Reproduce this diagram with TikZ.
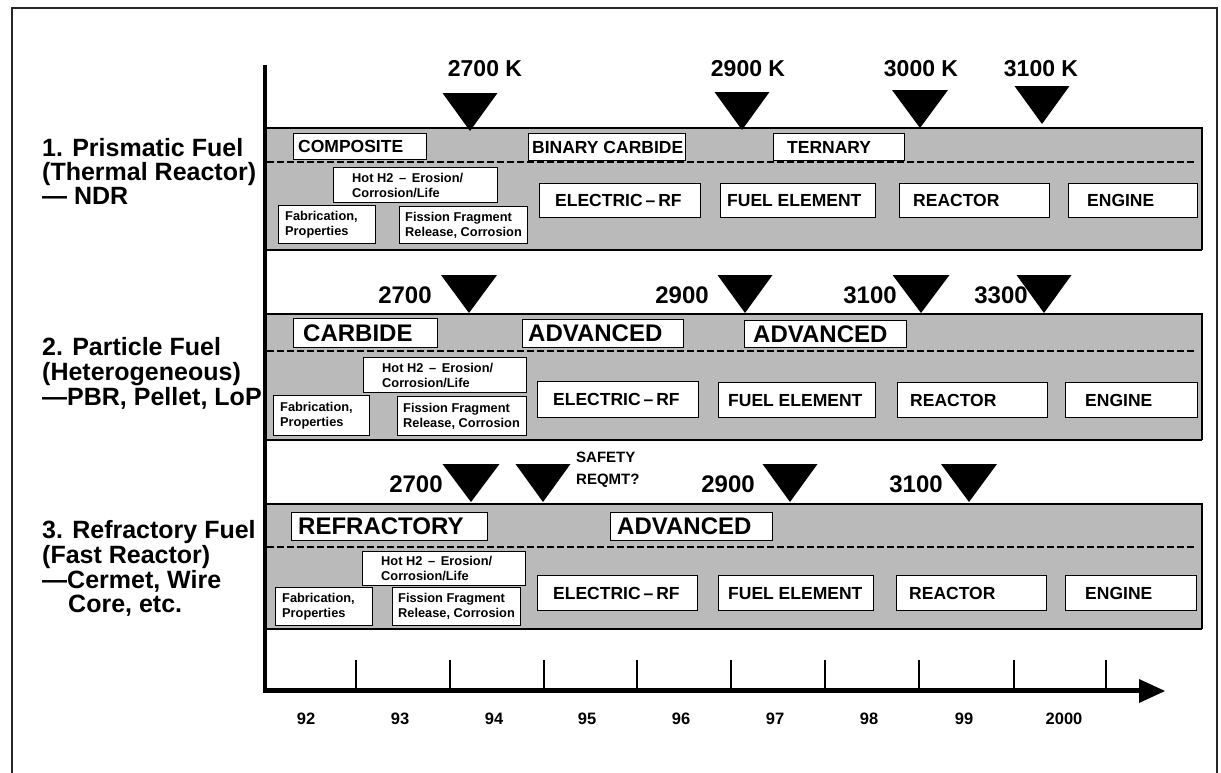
\documentclass[tikz,border=0pt]{standalone}
\usepackage{fontspec}
\setmainfont{Liberation Sans}
\newcommand\tbox[8]{%
  \node[boxshape, minimum width={(#4-#2)*1pt}, minimum height={(#5-#3)*1pt}] (#1) at (#2,#3) {};
  \node[#7, anchor=west] (#1t) at ([xshift=#6pt]#1.west) {#8};}
\newcommand\tri[5]{%
  \fill (#2-#5,#3) -- (#2+#5,#3) -- (#2,#4) -- cycle; \coordinate (#1) at (#2,#4);}
\begin{document}
\begin{tikzpicture}[x=1pt,y=-1pt,
  lab/.style={anchor=base west, inner sep=0pt, font=\fontsize{25}{25}\selectfont\bfseries},
  temp/.style={anchor=base, inner sep=0pt, font=\fontsize{23}{23}\selectfont\bfseries},
  tempb/.style={anchor=base, inner sep=0pt, font=\fontsize{24}{24}\selectfont\bfseries},
  year/.style={anchor=base, inner sep=0pt, font=\fontsize{16.5}{16.5}\selectfont\bfseries},
  safe/.style={anchor=base west, inner sep=0pt, font=\fontsize{15}{15}\selectfont\bfseries},
  boxshape/.style={draw, fill=white, line width=1.3pt, anchor=north west, inner sep=0pt},
  mid/.style={inner sep=0pt, font=\fontsize{17.5}{17.5}\selectfont\bfseries},
  big/.style={inner sep=0pt, font=\fontsize{24}{24}\selectfont\bfseries},
  small/.style={inner sep=0pt, align=left, font=\fontsize{12.8}{15}\selectfont\bfseries},
  bandfill/.style={fill=black!27},
  divider/.style={line width=1.3pt, dash pattern=on 7pt off 3pt},
  tick/.style={line width=1.5pt}]
\useasboundingbox (0,0) rectangle (1221,772);
\fill[white] (0,0) rectangle (1221,772);
\draw[line width=2pt, black!85] (12,790) -- (12,8) -- (1217,8) -- (1217,790);

% row labels
\node[lab] (l1a) at (42,156) {1. Prismatic Fuel};
\node[lab] (l1b) at (42,180) {(Thermal Reactor)};
\node[lab] (l1c) at (42,204) {— NDR};
\node[lab] (l2a) at (42,355) {2. Particle Fuel};
\node[lab] (l2b) at (42,380) {(Heterogeneous)};
\node[lab] (l2c) at (42,405) {—PBR, Pellet, LoP};
\node[lab] (l3a) at (42,538) {3. Refractory Fuel};
\node[lab] (l3b) at (42,563) {(Fast Reactor)};
\node[lab] (l3c) at (42,588) {—Cermet, Wire};
\node[lab] (l3d) at (68,612) {Core, etc.};

% bands
\foreach \t/\d/\b in {128/162/250, 314/351/440, 504/547/629}{
  \fill[bandfill] (265,\t) rectangle (1202,\b);
  \draw[line width=1.3pt] (265,\t) -- (1202,\t) -- (1202,\b);
  \draw[line width=2pt] (265,\b) -- (1202,\b);
  \draw[divider] (267,\d) -- (1196,\d);
}

% row 1 boxes
\tbox{a1}{293}{133}{426}{159}{5}{mid}{COMPOSITE}
\tbox{b1}{528}{133}{685}{160}{4}{mid}{BINARY CARBIDE}
\tbox{c1}{773}{133}{904}{160}{14}{mid}{TERNARY}
\tbox{h1}{333}{167}{497}{202}{19}{small}{Hot H2 \,–\, Erosion/\\Corrosion/Life}
\tbox{f1}{278}{205}{375}{243}{7}{small}{Fabrication,\\Properties}
\tbox{g1}{399}{206}{527}{243}{6}{small}{Fission Fragment\\Release, Corrosion}
\tbox{e1}{539}{183}{700}{217}{16}{mid}{ELECTRIC\,–\,RF}
\tbox{u1}{720}{183}{875}{217}{7}{mid}{FUEL ELEMENT}
\tbox{r1}{899}{183}{1049}{217}{14}{mid}{REACTOR}
\tbox{n1}{1068}{183}{1197}{217}{19}{mid}{ENGINE}

% row 2 boxes
\tbox{a2}{293}{318}{437}{347}{10}{big}{CARBIDE}
\tbox{b2}{522}{319}{683}{347}{6}{big}{ADVANCED}
\tbox{c2}{744}{320}{906}{347}{9}{big}{ADVANCED}
\tbox{h2}{363}{357}{526}{392}{19}{small}{Hot H2 \,–\, Erosion/\\Corrosion/Life}
\tbox{f2}{273}{395}{369}{435}{7}{small}{Fabrication,\\Properties}
\tbox{g2}{397}{396}{526}{435}{6}{small}{Fission Fragment\\Release, Corrosion}
\tbox{e2}{537}{381}{698}{417}{16}{mid}{ELECTRIC\,–\,RF}
\tbox{u2}{718}{382}{875}{417}{10}{mid}{FUEL ELEMENT}
\tbox{r2}{897}{382}{1047}{417}{13}{mid}{REACTOR}
\tbox{n2}{1065}{382}{1197}{417}{20}{mid}{ENGINE}

% row 3 boxes
\tbox{a3}{291}{512}{487}{540}{7}{big}{REFRACTORY}
\tbox{b3}{610}{512}{772}{540}{7}{big}{ADVANCED}
\tbox{h3}{362}{551}{525}{585}{19}{small}{Hot H2 \,–\, Erosion/\\Corrosion/Life}
\tbox{f3}{275}{587}{372}{625}{7}{small}{Fabrication,\\Properties}
\tbox{g3}{392}{587}{520}{625}{6}{small}{Fission Fragment\\Release, Corrosion}
\tbox{e3}{537}{575}{697}{610}{16}{mid}{ELECTRIC\,–\,RF}
\tbox{u3}{718}{575}{873}{610}{10}{mid}{FUEL ELEMENT}
\tbox{r3}{896}{575}{1046}{610}{13}{mid}{REACTOR}
\tbox{n3}{1065}{575}{1196}{610}{20}{mid}{ENGINE}

% temperature labels
\node[temp] (k1a) at (485,76) {2700 K};
\node[temp] (k1b) at (748,76) {2900 K};
\node[temp] (k1c) at (921,76) {3000 K};
\node[temp] (k1d) at (1041,76) {3100 K};
\node[tempb] (k2a) at (405,303) {2700};
\node[tempb] (k2b) at (682,303) {2900};
\node[tempb] (k2c) at (870,303) {3100};
\node[tempb] (k2d) at (1001,303) {3300};
\node[tempb] (k3a) at (416,492) {2700};
\node[tempb] (k3b) at (728,492) {2900};
\node[tempb] (k3c) at (916,492) {3100};
\node[safe] (s1) at (576,462) {SAFETY};
\node[safe] (s2) at (576,484) {REQMT?};

% triangles
\tri{t1a}{470}{93}{131}{27.5}
\tri{t1b}{742}{92}{130}{27.5}
\tri{t1c}{920}{90}{128}{28}
\tri{t1d}{1042}{86}{124}{27.5}
\tri{t2a}{469}{275}{313}{28}
\tri{t2b}{745}{275}{313}{27.5}
\tri{t2c}{921}{275}{313}{28.5}
\tri{t2d}{1044}{275}{313}{27.5}
\tri{t3a}{471}{464}{502}{28.5}
\tri{t3b}{543}{464}{502}{27.5}
\tri{t3c}{790}{464}{502}{27.5}
\tri{t3d}{969}{464}{502}{28}

% axes
\coordinate (o) at (265,690);
\coordinate (ytop) at (265,65);
\coordinate (xend) at (1142,690);
\draw[line width=4pt] (ytop) -- (265,692);
\draw[line width=5pt] (263,690) -- (xend);
\fill (1139,679) -- (1165,691) -- (1139,703) -- cycle;
\foreach \x in {356,450,544,637,731,825,919,1014,1106}
  \draw[tick] (\x,660) -- (\x,690);
\foreach \x/\l in {306/92,400/93,494/94,587/95,681/96,775/97,869/98,964/99,1064/2000}
  \node[year] (y\l) at (\x,724) {\l};
\end{tikzpicture}
\end{document}
